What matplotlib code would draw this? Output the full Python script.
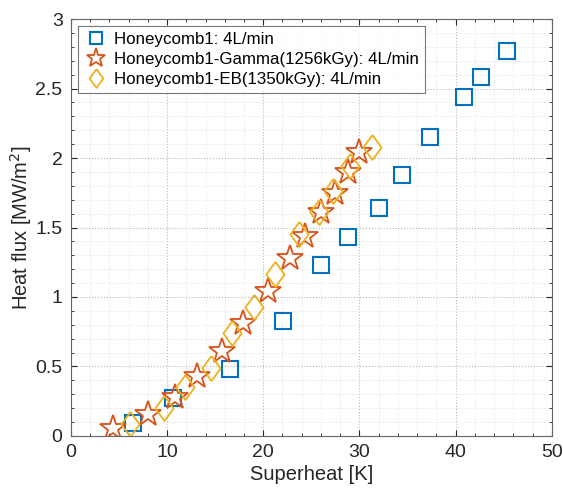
import numpy as np
import matplotlib.pyplot as plt
from matplotlib.ticker import MultipleLocator

# Honeycomb1 (blue squares)
x1 = [6.5, 10.6, 16.5, 22.1, 26.0, 28.8, 32.0, 34.4, 37.3, 40.9, 42.6, 45.3]
y1 = [0.09, 0.27, 0.48, 0.83, 1.23, 1.43, 1.64, 1.88, 2.15, 2.44, 2.58, 2.77]
# Honeycomb1-Gamma (stars)
x2 = [4.4, 8.0, 10.8, 13.1, 15.7, 17.9, 20.5, 22.8, 24.3, 26.0, 27.5, 28.8, 30.0]
y2 = [0.06, 0.16, 0.28, 0.43, 0.61, 0.81, 1.04, 1.28, 1.44, 1.61, 1.75, 1.90, 2.045]
# Honeycomb1-EB (diamonds)
x3 = [6.1, 9.7, 11.9, 14.6, 16.8, 19.0, 21.2, 23.7, 25.8, 27.3, 29.0, 31.3]
y3 = [0.086, 0.20, 0.35, 0.49, 0.74, 0.93, 1.165, 1.45, 1.61, 1.76, 1.94, 2.08]

labels = ['Honeycomb1: 4L/min',
          'Honeycomb1-Gamma(1256kGy): 4L/min',
          'Honeycomb1-EB(1350kGy): 4L/min']

plt.rcParams['font.family'] = ['Liberation Sans', 'DejaVu Sans']

fig = plt.figure(figsize=(5.63, 4.88), dpi=100)
ax = fig.add_axes([0.126, 0.1066, 0.854, 0.8544])

diamond = [(0, 1), (0.73, 0), (0, -1), (-0.73, 0), (0, 1)]

ax.plot(x1, y1, ls='none', marker='s', ms=11, mfc='none', mec='#0072BD', mew=1.5, label=labels[0])
ax.plot(x2, y2, ls='none', marker='*', ms=19, mfc='none', mec='#D95319', mew=1.3, label=labels[1])
ax.plot(x3, y3, ls='none', marker=diamond, ms=18, mfc='none', mec='#EDB120', mew=1.3, label=labels[2])

ax.set_xlim(0, 50)
ax.set_ylim(0, 3)
ax.xaxis.set_major_locator(MultipleLocator(10))
ax.xaxis.set_minor_locator(MultipleLocator(2))
ax.yaxis.set_minor_locator(MultipleLocator(0.1))
ax.set_yticks([0, 0.5, 1, 1.5, 2, 2.5, 3])
ax.set_yticklabels(['0', '0.5', '1', '1.5', '2', '2.5', '3'])

ax.grid(which='major', ls=':', color='#b8b8b8', lw=0.8)
ax.grid(which='minor', ls=':', color='#dcdcdc', lw=0.6)
ax.set_axisbelow(True)
ax.tick_params(which='both', direction='in', top=True, right=True, colors='#262626', labelsize=14)
ax.tick_params(which='major', length=4, pad=6)
ax.tick_params(which='minor', length=2)
for s in ax.spines.values():
    s.set_color('#666666')
    s.set_linewidth(0.8)

ax.set_xlabel('Superheat [K]', fontsize=14.5, color='#262626', labelpad=3)
ax.set_ylabel('Heat flux [MW/m$^2$]', fontsize=14.5, color='#262626', labelpad=1)

leg = ax.legend(loc='upper left', fontsize=12.2, frameon=True, fancybox=False,
                edgecolor='#555555', borderaxespad=0.4, handletextpad=0.3,
                labelspacing=0.3, borderpad=0.35, handlelength=1.5, markerscale=0.75)
leg.get_frame().set_linewidth(0.8)

fig.savefig('out.png', dpi=100)
